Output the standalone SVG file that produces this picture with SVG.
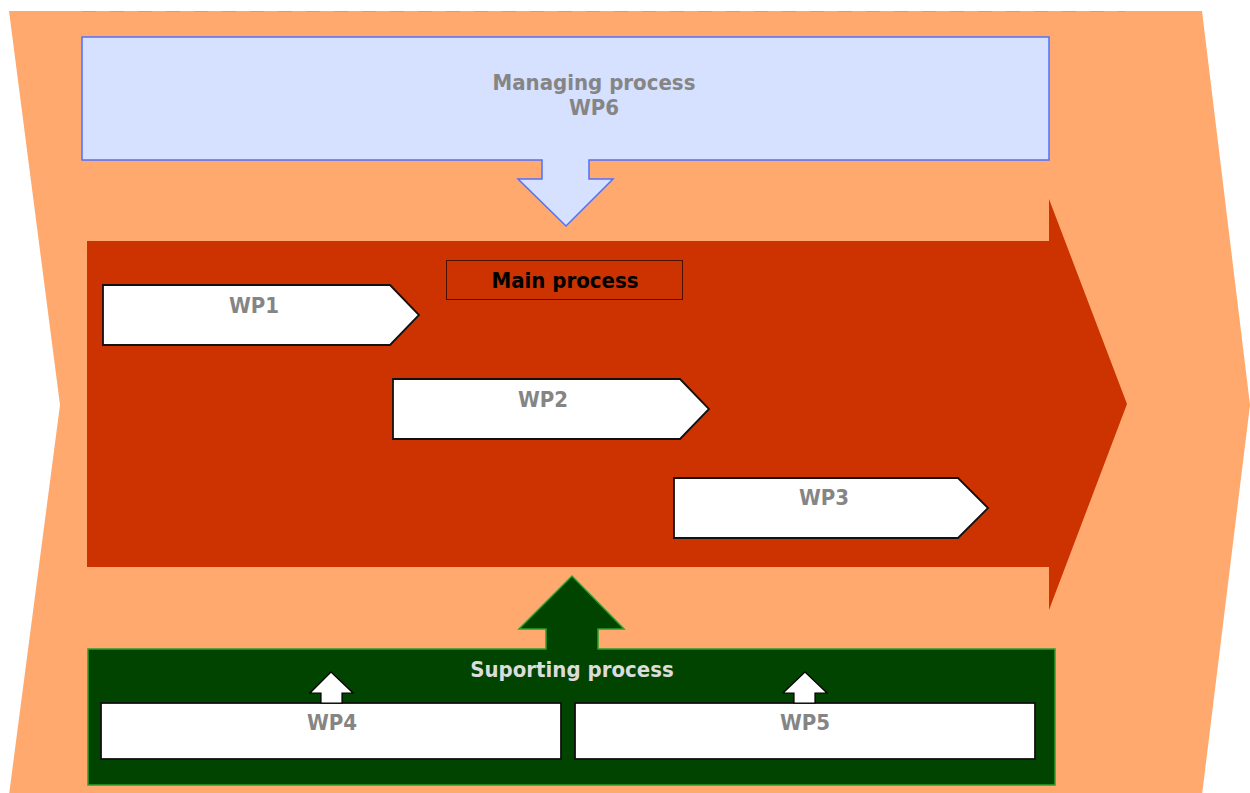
<svg xmlns="http://www.w3.org/2000/svg" width="1250" height="793" viewBox="0 0 1250 793">
<style>
  .lbl { font-family: "DejaVu Sans Condensed", "DejaVu Sans", Verdana, sans-serif; font-stretch: condensed; font-weight: bold; font-size: 22px; text-anchor: middle; }
  .gray { fill: #858585; }
  .wp { fill: #ffffff; stroke: #111111; stroke-width: 1.8; }
  .wps { fill: #ffffff; stroke: #000000; stroke-width: 1.2; }
</style>
<rect width="1250" height="793" fill="#ffffff"/>
<g id="background">
  <polygon points="9,11 1202,11 1250,405 1202,795 9,795 60,405" fill="#FFA96E"/>
  <line x1="82" y1="11.5" x2="1125" y2="11.5" stroke="#D99A85" stroke-width="1.2" stroke-dasharray="14,14"/>
</g>
<g id="managing">
  <path d="M82,37 H1049 V160 H589 V179 H613 L566,226 L518,179 H542 V160 H82 Z" fill="#D6E0FF" stroke="#4D72FF" stroke-width="1.5"/>
  <text class="lbl gray" x="594" y="90">Managing process</text>
  <text class="lbl gray" x="594" y="115">WP6</text>
</g>
<g id="main">
  <polygon points="87,241 1049,241 1049,199 1127,404 1049,610 1049,567 87,567" fill="#CC3300"/>
  <rect x="446.5" y="260.5" width="236" height="39" fill="#CC3300" stroke="#4A1000" stroke-width="1"/>
  <text class="lbl" x="565" y="288" fill="#000000">Main process</text>
</g>
<g id="wp1">
  <polygon class="wp" points="103,285 390,285 419,315 390,345 103,345"/>
  <text class="lbl gray" x="254" y="313">WP1</text>
</g>
<g id="wp2">
  <polygon class="wp" points="393,379 680,379 709,409 680,439 393,439"/>
  <text class="lbl gray" x="543" y="407">WP2</text>
</g>
<g id="wp3">
  <polygon class="wp" points="674,478 958,478 988,508 958,538 674,538"/>
  <text class="lbl gray" x="824" y="505">WP3</text>
</g>
<g id="supporting">
  <path d="M88,649 H546 V629 H519 L572,576 L624,629 H598 V649 H1055 V785 H88 Z" fill="#004400" stroke="#2E9E2E" stroke-width="1.5"/>
  <text class="lbl" x="572" y="677" fill="#DCDCDC">Suporting process</text>
</g>
<g id="wp4">
  <rect class="wp" x="101" y="703" width="460" height="56"/>
  <polygon class="wps" points="321,703 321,693 310,693 331,672 353,693 342,693 342,703"/>
  <text class="lbl gray" x="332" y="730">WP4</text>
</g>
<g id="wp5">
  <rect class="wp" x="575" y="703" width="460" height="56"/>
  <polygon class="wps" points="794,703 794,693 783,693 805,672 827,693 815,693 815,703"/>
  <text class="lbl gray" x="805" y="730">WP5</text>
</g>
<g id="connectors"></g>
</svg>
